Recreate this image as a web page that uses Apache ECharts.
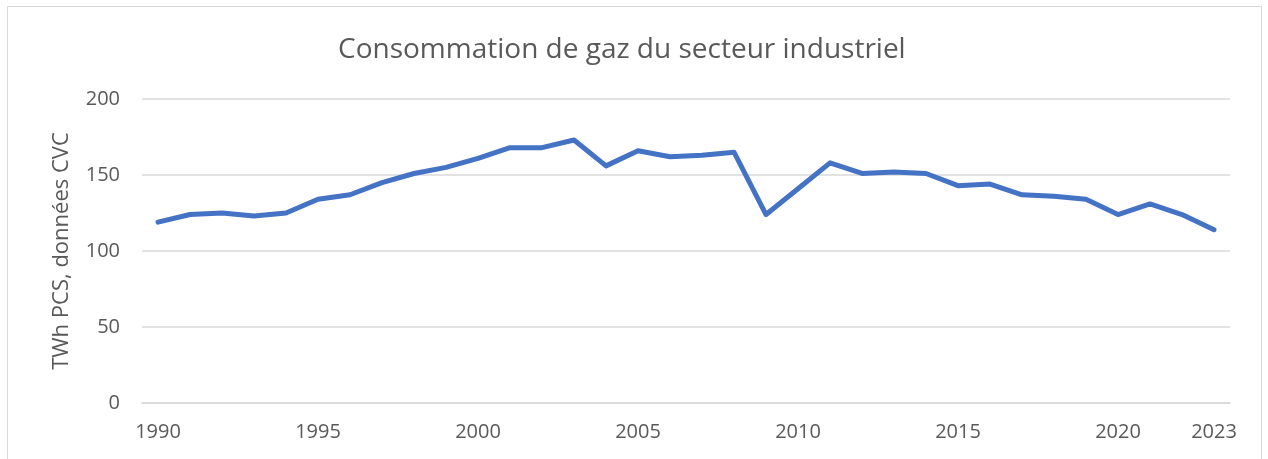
<!DOCTYPE html>
<html>
<head>
<meta charset="utf-8">
<script src="https://cdn.jsdelivr.net/npm/echarts@6/dist/echarts.min.js"></script>
<style>
  html, body { margin: 0; padding: 0; background: #ffffff; overflow: hidden; }
  #frame {
    position: absolute; left: 7px; top: 6px; width: 1255px; height: 470px;
    border: 1px solid #d9d9d9; box-sizing: border-box; pointer-events: none;
  }
  #chart { position: absolute; left: 0; top: 0; width: 1268px; height: 459px; }
</style>
</head>
<body>
<div id="chart"></div>
<div id="frame"></div>
<script>
const years = []
for (let y = 1990; y <= 2023; y++) years.push(String(y))
// TWh PCS, données CVC
const consumption = [
  119, 124, 125, 123, 125, 134, 137, 145, 151, 155,
  161, 168, 168, 173, 156, 166, 162, 163, 165, 124,
  141, 158, 151, 152, 151, 143, 144, 137, 136, 134,
  124, 131, 124, 114
]
const shownYears = ['1990', '1995', '2000', '2005', '2010', '2015', '2020', '2023']

const myChart = echarts.init(document.getElementById('chart'))
const textColor = '#595959'
const option = {
  animation: false,
  title: {
    text: 'Consommation de gaz du secteur industriel',
    left: 333,
    top: 31,
    textStyle: { fontFamily: 'Open Sans', fontSize: 28, fontWeight: 'normal', color: textColor }
  },
  grid: { left: 142, right: 38, top: 99, bottom: 56 },
  xAxis: {
    type: 'category',
    data: years,
    boundaryGap: true,
    axisLine: { show: true, lineStyle: { color: '#d9d9d9', width: 1.5 } },
    axisTick: { show: false },
    axisLabel: {
      interval: (idx, value) => shownYears.includes(value),
      color: textColor,
      fontFamily: 'Open Sans',
      fontSize: 20,
      margin: 19
    }
  },
  yAxis: {
    type: 'value',
    min: 0,
    max: 200,
    interval: 50,
    name: 'TWh PCS, données CVC',
    nameLocation: 'middle',
    nameGap: 69,
    nameTextStyle: { color: textColor, fontFamily: 'Open Sans', fontSize: 22 },
    axisLine: { show: false },
    axisTick: { show: false },
    axisLabel: { color: textColor, fontFamily: 'Open Sans', fontSize: 20, margin: 22 },
    splitLine: { lineStyle: { color: '#d9d9d9', width: 1.5 } }
  },
  series: [
    {
      name: 'Consommation',
      type: 'line',
      data: consumption,
      symbol: 'none',
      lineStyle: { color: '#4472c4', width: 5, cap: 'round', join: 'round' }
    }
  ]
}
option && myChart.setOption(option)
</script>
</body>
</html>
